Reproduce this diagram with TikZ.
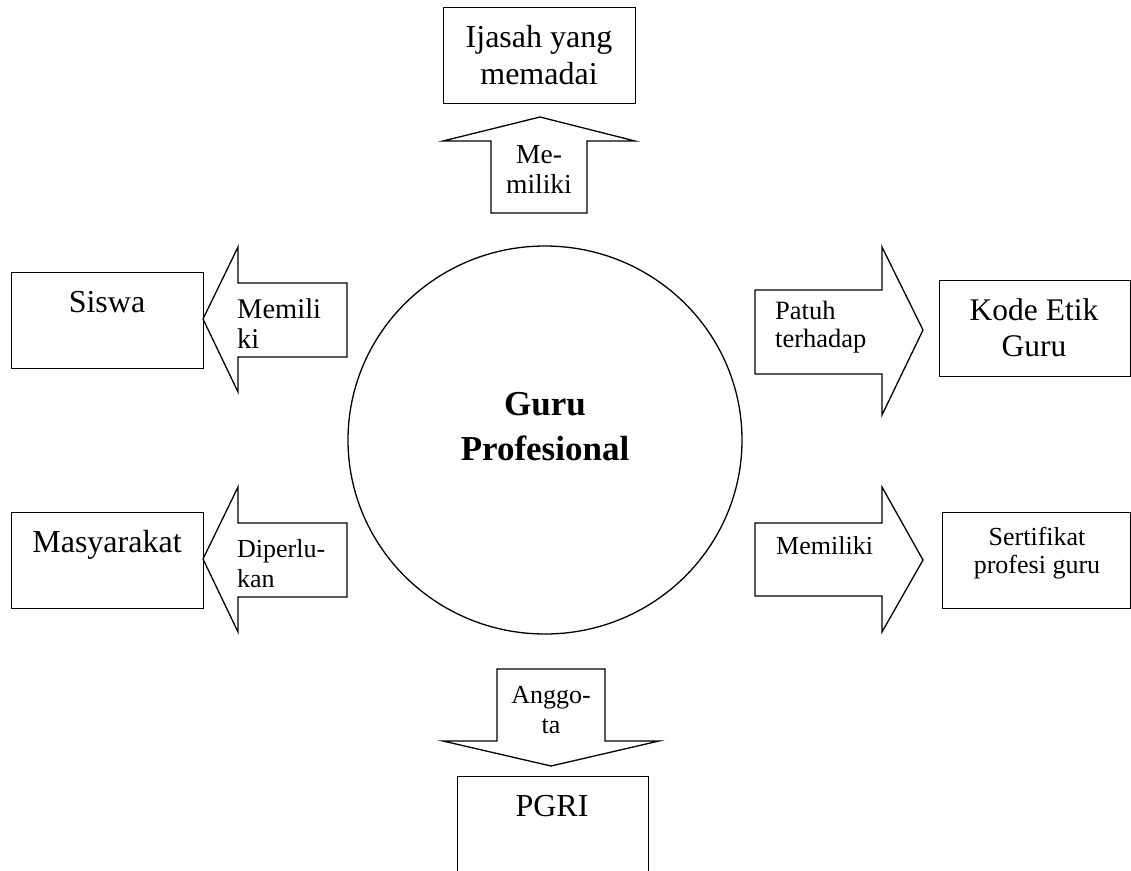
\documentclass[tikz,border=0pt]{standalone}
\usepackage{fontspec}
\setmainfont{Liberation Serif}
\usetikzlibrary{shapes.geometric}
\begin{document}
\begin{tikzpicture}[x=1pt,y=-1pt,
  outline/.style={draw=black, line width=1.3pt, line join=miter},
  boxshape/.style={draw=black, line width=1.3pt, rectangle, inner sep=0pt, anchor=north west},
  bigtext/.style={font=\fontsize{32}{37}\selectfont, align=center, inner sep=0pt},
  smalltext/.style={font=\fontsize{26}{28}\selectfont, align=center, inner sep=0pt},
  arrowtext/.style={font=\fontsize{26}{30}\selectfont, inner sep=0pt},
  titletext/.style={font=\fontsize{35}{45}\selectfont\bfseries, align=center, inner sep=0pt}
]
% page frame
\clip (0,0) rectangle (1131,870);
\fill[white] (0,0) rectangle (1131,870);

% central circle
\node[draw=black, line width=1.3pt, ellipse, minimum width=394pt, minimum height=388pt, inner sep=0pt] (guru) at (545,440) {};
\node[titletext] (gurutext) at (545,427) {Guru\\Profesional};

% outer boxes
\node[boxshape, minimum width=192pt, minimum height=96pt] (ijasah) at (443,7) {};
\node[bigtext, anchor=north] (ijasahtext) at (539,25) {Ijasah yang\\memadai};

\node[boxshape, minimum width=192pt, minimum height=96pt] (siswa) at (11,272) {};
\node[bigtext, anchor=north] (siswatext) at (107,291) {Siswa};

\node[boxshape, minimum width=192pt, minimum height=96pt] (masy) at (11,512) {};
\node[bigtext, anchor=north] (masytext) at (107,530) {Masyarakat};

\node[boxshape, minimum width=191pt, minimum height=96pt] (kode) at (939,280) {};
\node[bigtext, anchor=north, font=\fontsize{31.5}{36}\selectfont] (kodetext) at (1034,298) {Kode Etik\\Guru};

\node[boxshape, minimum width=188pt, minimum height=96pt] (sert) at (942,512) {};
\node[smalltext, anchor=north] (serttext) at (1037,527) {Sertifikat\\profesi guru};

\node[boxshape, minimum width=191pt, minimum height=130pt] (pgri) at (457,776) {};
\node[bigtext, anchor=north] (pgritext) at (552,795) {PGRI};

% block arrows
\draw[outline] (491,213) -- (491,141) -- (443,141) -- (540,117) -- (635,141) -- (587,141) -- (587,213) -- cycle;
\node[arrowtext, align=center, anchor=north, font=\fontsize{27.5}{30}\selectfont] (uplabel) at (539,145) {Me-\\miliki};

\draw[outline] (347,283) -- (238,283) -- (238,247) -- (203,319) -- (238,392) -- (238,357) -- (347,357) -- cycle;
\node[arrowtext, align=left, anchor=north west, font=\fontsize{28.5}{30}\selectfont] (leftlabela) at (237,299) {Memili\\ki};

\draw[outline] (347,523) -- (238,523) -- (238,487) -- (203,559) -- (238,632) -- (238,597) -- (347,597) -- cycle;
\node[arrowtext, align=left, anchor=north west] (leftlabelb) at (237,539) {Diperlu-\\kan};

\draw[outline] (755,290) -- (882,290) -- (882,247) -- (923,330) -- (882,415) -- (882,374) -- (755,374) -- cycle;
\node[arrowtext, align=left, anchor=north west, font=\fontsize{26.5}{28}\selectfont] (rightlabela) at (775,301) {Patuh\\terhadap};

\draw[outline] (755,523) -- (882,523) -- (882,487) -- (923,560) -- (882,632) -- (882,596) -- (755,596) -- cycle;
\node[arrowtext, anchor=north west] (rightlabelb) at (776,536) {Memiliki};

\draw[outline] (497,669) -- (605,669) -- (605,741) -- (659,741) -- (551,766) -- (443,741) -- (497,741) -- cycle;
\node[arrowtext, align=center, anchor=north] (downlabel) at (551,686) {Anggo-\\ta};
\end{tikzpicture}
\end{document}
